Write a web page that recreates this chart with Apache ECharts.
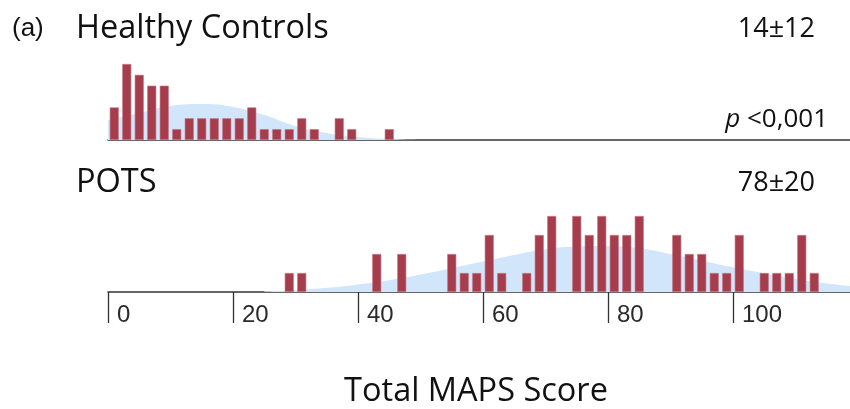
<!DOCTYPE html>
<html>
<head>
<meta charset="utf-8">
<script src="https://cdn.jsdelivr.net/npm/echarts@6/dist/echarts.min.js"></script>
<style>
  html, body { margin: 0; padding: 0; background: #fff; }
  #chart { width: 850px; height: 409px; }
</style>
</head>
<body>
<div id="chart"></div>
<script>
// histogram bins are 2 points wide, starting at 0
const binWidth = 2;

// Healthy Controls: counts per bin (0-2, 2-4, ... 44-46)
const controlCounts = [3, 7, 6, 5, 5, 1, 2, 2, 2, 2, 2, 3, 1, 1, 1, 2, 1, 0, 2, 1, 0, 0, 1];

// POTS: counts per bin (0-2 ... 116-118)
const potsCounts = [
    0, 0, 0, 0, 0, 0, 0, 0, 0, 0, 0, 0, 0, 0,
    1, 1, 0, 0, 0, 0, 0, 2, 0, 2, 0, 0, 0,
    2, 1, 1, 3, 1, 0, 1, 3, 4, 0, 4, 3, 4, 3, 3, 4, 0, 0,
    3, 2, 2, 1, 1, 3, 0, 1, 1, 1, 3, 1, 0, 0
];

// fitted normal curves, heights (in count units)
const controlCurveX = [0, 5, 10, 15, 20, 25, 30, 35, 40, 45, 50];
const controlCurveY = [1.84, 2.49, 3.13, 3.31, 3.04, 2.30, 1.29, 0.64, 0.28, 0.09, 0];
const potsCurveX = [25, 30, 35, 40, 45, 50, 55, 60, 65, 70, 75, 80, 85, 90, 95, 100, 105, 110, 115, 120];
const potsCurveY = [0.03, 0.1, 0.22, 0.4, 0.62, 0.92, 1.25, 1.6, 1.95, 2.25, 2.4, 2.42, 2.3, 2.0, 1.65, 1.3, 0.98, 0.68, 0.45, 0.28];

const xTickInterval = 20;

const barColor = '#a63d4d';
const curveColor = '#d2e6fb';
const inkColor = '#333';

function toBars(counts) {
    // empty bins are left out so no zero-height outline is drawn
    return counts
        .map((c, i) => [i * binWidth + binWidth / 2, c])
        .filter(d => d[1] > 0);
}
function toCurve(xs, ys) {
    return xs.map((x, i) => [x, ys[i]]);
}

const chart = echarts.init(document.getElementById('chart'), null, { renderer: 'canvas' });

const textFont = "'Open Sans', 'Noto Sans', sans-serif";

chart.setOption({
    animation: false,
    grid: [
        { left: 108, right: -8, top: 64, height: 76, outerBoundsMode: 'none', containLabel: false },
        { left: 108, right: -8, top: 216, height: 76, outerBoundsMode: 'none', containLabel: false }
    ],
    xAxis: [
        {
            gridIndex: 0, type: 'value', min: 0, max: 120, interval: xTickInterval,
            axisLine: { show: true, lineStyle: { color: inkColor, width: 1.5 } },
            axisTick: { show: false }, axisLabel: { show: false }, splitLine: { show: false }
        },
        {
            gridIndex: 1, type: 'value', min: 0, max: 120, interval: xTickInterval,
            axisLine: { show: true, lineStyle: { color: inkColor, width: 1.5 } },
            axisTick: { show: true, length: 31, lineStyle: { color: inkColor, width: 1.3 } },
            axisLabel: {
                show: true, align: 'left', verticalAlign: 'top', margin: 11,
                padding: [0, 0, 0, 9],
                fontFamily: "'Liberation Sans', Arial, sans-serif", fontSize: 24, color: '#2a2a2a'
            },
            splitLine: { show: false }
        }
    ],
    yAxis: [
        { gridIndex: 0, type: 'value', min: 0, max: 7, show: false },
        { gridIndex: 1, type: 'value', min: 0, max: 4, show: false }
    ],
    series: [
        {
            type: 'line', xAxisIndex: 0, yAxisIndex: 0, smooth: true, symbol: 'none',
            lineStyle: { width: 0 }, areaStyle: { color: curveColor, opacity: 1 },
            data: toCurve(controlCurveX, controlCurveY), z: 1, silent: true
        },
        {
            type: 'bar', xAxisIndex: 0, yAxisIndex: 0, barWidth: 9,
            itemStyle: { color: barColor, borderColor: '#c9737f', borderWidth: 0.6 },
            data: toBars(controlCounts), z: 2
        },
        {
            type: 'line', xAxisIndex: 1, yAxisIndex: 1, smooth: true, symbol: 'none',
            lineStyle: { width: 0 }, areaStyle: { color: curveColor, opacity: 1 },
            data: toCurve(potsCurveX, potsCurveY), z: 1, silent: true
        },
        {
            type: 'bar', xAxisIndex: 1, yAxisIndex: 1, barWidth: 9,
            itemStyle: { color: barColor, borderColor: '#c9737f', borderWidth: 0.6 },
            data: toBars(potsCounts), z: 2
        }
    ],
    graphic: [
        { type: 'text', left: 12, top: 16, style: { text: '(a)', fontFamily: "'Liberation Sans', Arial, sans-serif", fontSize: 26, fill: '#111' } },
        { type: 'text', x: 76, y: 29, style: { text: 'Healthy Controls', fontFamily: textFont, fontSize: 32.5, fill: '#111', textVerticalAlign: 'middle' } },
        { type: 'text', x: 815, y: 29, style: { text: '14±12', fontFamily: textFont, fontSize: 27, fill: '#111', textAlign: 'right', textVerticalAlign: 'middle' } },
        {
            type: 'text', x: 828, y: 120,
            style: {
                text: '{i|p} <0,001', textAlign: 'right', textVerticalAlign: 'middle',
                fontFamily: textFont, fontSize: 26, fill: '#111',
                rich: { i: { fontStyle: 'italic', fontFamily: textFont, fontSize: 26, fill: '#111' } }
            }
        },
        { type: 'text', x: 76, y: 183, style: { text: 'POTS', fontFamily: textFont, fontSize: 32.5, fill: '#111', textVerticalAlign: 'middle' } },
        { type: 'text', x: 815, y: 183, style: { text: '78±20', fontFamily: textFont, fontSize: 27, fill: '#111', textAlign: 'right', textVerticalAlign: 'middle' } },
        { type: 'text', x: 476, y: 392, style: { text: 'Total MAPS Score', fontFamily: textFont, fontSize: 32.5, fill: '#111', textAlign: 'center', textVerticalAlign: 'middle' } }
    ]
});
</script>
</body>
</html>
